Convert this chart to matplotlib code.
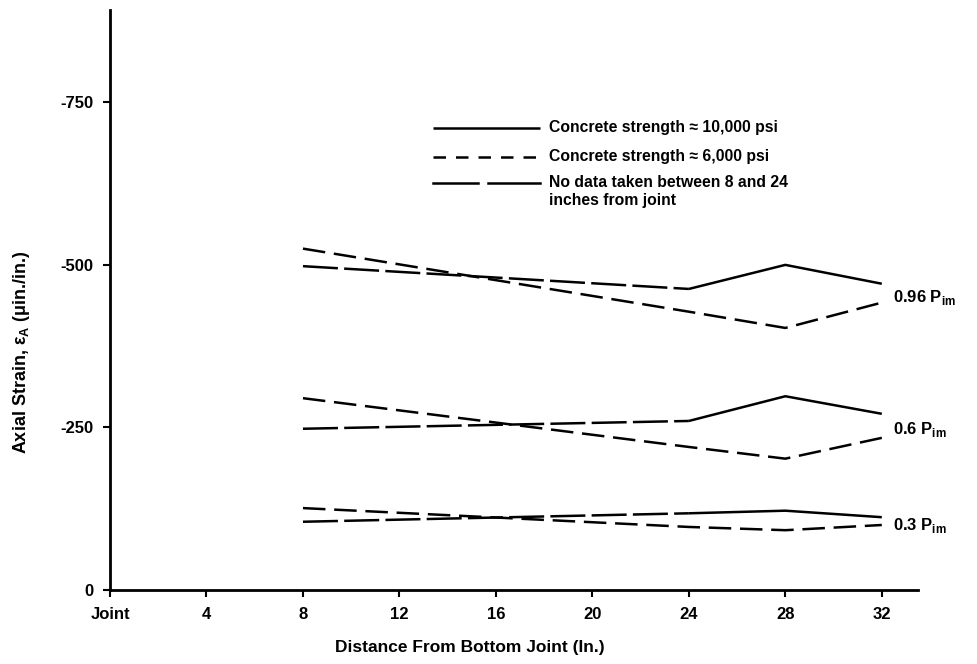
import numpy as np
import matplotlib
matplotlib.use("Agg")
import matplotlib.pyplot as plt

plt.rcParams['font.family'] = ['Liberation Sans', 'DejaVu Sans']

# distances from bottom joint (in.)
x_pts = [8, 24, 28, 32]

# axial strain (micro in./in.)
s10k_096 = [-498, -463, -500, -471]
s6k_096 = [-525, -428, -403, -442]
s10k_06 = [-248, -260, -298, -271]
s6k_06 = [-295, -220, -202, -234]
s10k_03 = [-105, -118, -122, -112]
s6k_03 = [-126, -97, -92, -100]

load_labels = ['0.96', '0.6', '0.3']
xticks = [0, 4, 8, 12, 16, 20, 24, 28, 32]
xticklabels = ['Joint', '4', '8', '12', '16', '20', '24', '28', '32']
yticks = [0, -250, -500, -750]

fig = plt.figure(figsize=(9.77, 6.64), dpi=100)
ax = fig.add_axes([0.1126, 0.1114, 0.827, 0.8736])

lw = 1.8
solid = (0, ())
longdash = (0, (14, 2.5))
shortdash = (0, (9, 3.5))

groups = [(s10k_096, s6k_096), (s10k_06, s6k_06), (s10k_03, s6k_03)]
for s10, s6 in groups:
    # 10,000 psi: no data between 8 and 24 in. -> long dashes, then solid
    ax.plot(x_pts[:2], s10[:2], color='black', lw=lw, linestyle=longdash)
    ax.plot(x_pts[1:], s10[1:], color='black', lw=lw, linestyle=solid)
    # 6,000 psi
    ax.plot(x_pts, s6, color='black', lw=lw, linestyle=shortdash)

for (s10, s6), lab in zip(groups, load_labels):
    ymid = (s10[-1] + s6[-1]) / 2
    ax.annotate(lab + r' P$_{\mathregular{im}}$', xy=(32, ymid), xytext=(8, -3),
                textcoords='offset points', va='center', ha='left',
                fontsize=12, fontweight='bold')

ax.set_xlim(0, 33.5)
ax.set_ylim(0, -892)
ax.set_xticks(xticks)
ax.set_xticklabels(xticklabels)
ax.set_yticks(yticks)
ax.set_yticklabels([str(v) for v in yticks])
for lab in ax.get_xticklabels() + ax.get_yticklabels():
    lab.set_fontweight('bold')
    lab.set_fontsize(12)

for side in ['top', 'right']:
    ax.spines[side].set_visible(False)
for side in ['left', 'bottom']:
    ax.spines[side].set_linewidth(2)
ax.tick_params(direction='out', length=5, width=1.5, pad=7)

ax.set_xlabel('Distance From Bottom Joint (In.)', fontsize=12.5, fontweight='bold')
ax.xaxis.set_label_coords(0.445, -0.087)
ax.set_ylabel(r'Axial Strain, ε$_{\mathregular{A}}$ (μin./in.)', fontsize=13,
              fontweight='bold')
ax.yaxis.set_label_coords(-0.097, 0.41)

# legend keys
tr = ax.transAxes
kx = [0.3998, 0.5322]
ax.plot(kx, [0.7966, 0.7966], transform=tr, color='black', lw=lw, linestyle=solid)
ax.plot(kx, [0.7466, 0.7466], transform=tr, color='black', lw=lw, linestyle=(0, (5, 4)))
ax.plot([0.3998, 0.4555], [0.7017, 0.7017], transform=tr, color='black', lw=lw)
ax.plot([0.4680, 0.5322], [0.7017, 0.7017], transform=tr, color='black', lw=lw)
tx = 0.5433
fs = 11.3
ax.text(tx, 0.7966, 'Concrete strength ≈ 10,000 psi', transform=tr, va='center',
        fontsize=fs, fontweight='bold')
ax.text(tx, 0.7466, 'Concrete strength ≈ 6,000 psi', transform=tr, va='center',
        fontsize=fs, fontweight='bold')
ax.text(tx, 0.7017, 'No data taken between 8 and 24', transform=tr, va='center',
        fontsize=fs, fontweight='bold')
ax.text(tx, 0.6707, 'inches from joint', transform=tr, va='center',
        fontsize=fs, fontweight='bold')

fig.savefig('out.png', dpi=100)
